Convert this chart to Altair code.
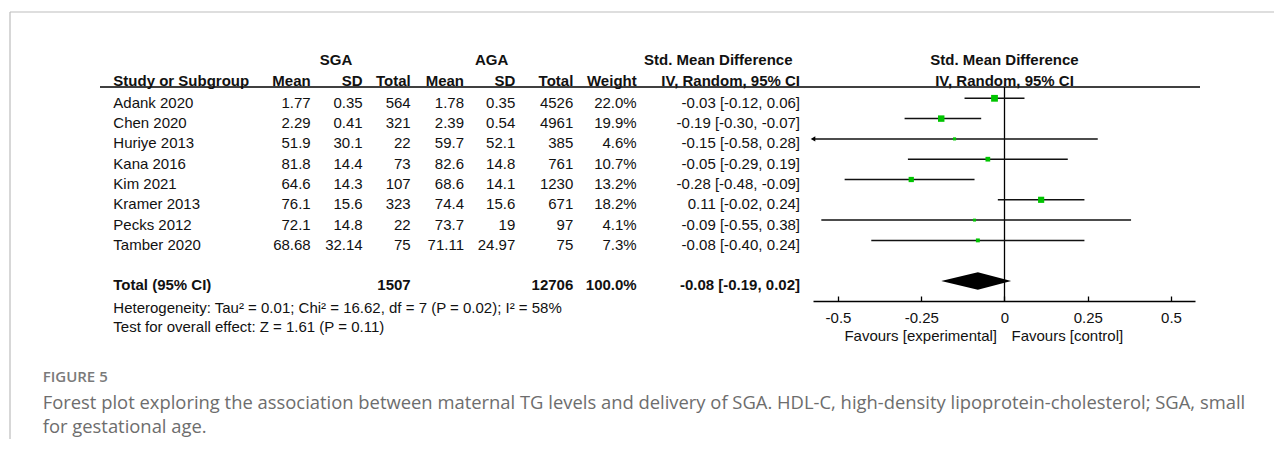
import altair as alt
import pandas as pd

# ---------------- data ----------------
studies = ["Adank 2020", "Chen 2020", "Huriye 2013", "Kana 2016", "Kim 2021",
           "Kramer 2013", "Pecks 2012", "Tamber 2020"]
sga_mean = [1.77, 2.29, 51.9, 81.8, 64.6, 76.1, 72.1, 68.68]
sga_sd = [0.35, 0.41, 30.1, 14.4, 14.3, 15.6, 14.8, 32.14]
sga_n = [564, 321, 22, 73, 107, 323, 22, 75]
aga_mean = [1.78, 2.39, 59.7, 82.6, 68.6, 74.4, 73.7, 71.11]
aga_sd = [0.35, 0.54, 52.1, 14.8, 14.1, 15.6, 19, 24.97]
aga_n = [4526, 4961, 385, 761, 1230, 671, 97, 75]
weight = [22.0, 19.9, 4.6, 10.7, 13.2, 18.2, 4.1, 7.3]
smd = [-0.03, -0.19, -0.15, -0.05, -0.28, 0.11, -0.09, -0.08]
ci_low = [-0.12, -0.30, -0.58, -0.29, -0.48, -0.02, -0.55, -0.40]
ci_high = [0.06, -0.07, 0.28, 0.19, -0.09, 0.24, 0.38, 0.24]

total_label = "Total (95% CI)"
total_sga_n = 1507
total_aga_n = 12706
total_weight = 100.0
total_smd = -0.08
total_low = -0.19
total_high = 0.02

tau2, chi2, df_het, p_het, i2 = 0.01, 16.62, 7, 0.02, 58
z_val, p_z = 1.61, 0.11

x_ticks = [-0.5, -0.25, 0, 0.25, 0.5]
favours_left = "Favours [experimental]"
favours_right = "Favours [control]"

group_headers = ["SGA", "AGA", "Std. Mean Difference"]
col_headers = ["Study or Subgroup", "Mean", "SD", "Total", "Mean", "SD", "Total",
               "Weight", "IV, Random, 95% CI"]
plot_headers = ["Std. Mean Difference", "IV, Random, 95% CI"]

caption_title = "FIGURE 5"
caption_lines = [
    "Forest plot exploring the association between maternal TG levels and delivery of SGA. HDL-C, high-density lipoprotein-cholesterol; SGA, small",
    "for gestational age.",
]

# ---------------- layout / style ----------------
FONT = "Liberation Sans, Arial, sans-serif"
CAP_FONT = "Open Sans, sans-serif"
FS = 15
TXT = "#111111"
GREEN = "#00c400"
X_MIN, X_MAX = -0.575, 0.572
W, H = 1266, 288
ROW_DY = 9.4
DIAMOND_HALF = 0.43

xscale = alt.Scale(domain=[X_MIN, X_MAX], range=[805, 1187], clamp=True, nice=False, zero=False)
yscale = alt.Scale(domain=[0, 9], range=[90.3, 273], nice=False, zero=False)

df = pd.DataFrame({
    "row": list(range(len(studies))),
    "study": studies,
    "sga_mean": [str(v) for v in sga_mean],
    "sga_sd": [str(v) for v in sga_sd],
    "sga_n": [str(v) for v in sga_n],
    "aga_mean": [str(v) for v in aga_mean],
    "aga_sd": [str(v) for v in aga_sd],
    "aga_n": [str(v) for v in aga_n],
    "weight_txt": [f"{w:.1f}%" for w in weight],
    "ci_txt": [f"{e:.2f} [{l:.2f}, {h:.2f}]" for e, l, h in zip(smd, ci_low, ci_high)],
    "est": smd, "lo": ci_low, "hi": ci_high, "w": weight,
})

tot = pd.DataFrame({
    "row": [9],
    "study": [total_label],
    "sga_n": [str(total_sga_n)],
    "aga_n": [str(total_aga_n)],
    "weight_txt": [f"{total_weight:.1f}%"],
    "ci_txt": [f"{total_smd:.2f} [{total_low:.2f}, {total_high:.2f}]"],
})

diamond = pd.DataFrame({
    "x": [total_low, total_smd, total_high],
    "y": [9, 9 - DIAMOND_HALF, 9],
    "y2": [9, 9 + DIAMOND_HALF, 9],
})

one = pd.DataFrame({"a": [0]})
layers = []

# frame lines
layers.append(alt.Chart(one).mark_rule(color="#bdbdbd", strokeWidth=1.2).encode(
    x=alt.value(2), x2=alt.value(W), y=alt.value(4)))
layers.append(alt.Chart(one).mark_rule(color="#bdbdbd", strokeWidth=1.2).encode(
    x=alt.value(2), y=alt.value(4), y2=alt.value(431)))
# header underline
layers.append(alt.Chart(one).mark_rule(color="black", strokeWidth=1.6).encode(
    x=alt.value(92), x2=alt.value(1192), y=alt.value(79)))
# zero line
layers.append(alt.Chart(one).mark_rule(color="black", strokeWidth=1.3).encode(
    x=alt.X(datum=0, scale=xscale, axis=None), y=alt.value(79), y2=alt.value(293)))

axis_domain = alt.Axis(orient="bottom", domain=True, ticks=False, labels=False, grid=False,
                       title=None, offset=5, domainColor="black", domainWidth=1.3)
axis_ticks = alt.Axis(orient="bottom", values=x_ticks, domain=False, ticks=True, tickSize=5,
                      tickColor="black", tickWidth=1.3, labels=True,
                      labelExpr="'' + datum.value",
                      labelFont=FONT, labelFontSize=FS, labelColor=TXT, labelPadding=21,
                      labelBaseline="alphabetic", labelFlush=False, labelOverlap=False,
                      grid=False, title=None)

# CI lines
layers.append(alt.Chart(df).mark_rule(color="#111111", strokeWidth=1.5).encode(
    x=alt.X("lo:Q", scale=xscale, axis=axis_domain),
    x2="hi:Q",
    y=alt.Y("row:Q", scale=yscale, axis=None)))
# arrows for clipped CIs
layers.append(alt.Chart(df).transform_filter(alt.datum.lo < X_MIN).mark_point(
    shape="triangle-left", filled=True, color="black", opacity=1, size=28).encode(
    x=alt.X("lo:Q", scale=xscale, axis=None),
    y=alt.Y("row:Q", scale=yscale, axis=None)))
# squares
layers.append(alt.Chart(df).mark_square(filled=True, color=GREEN, opacity=1).encode(
    x=alt.X("est:Q", scale=xscale, axis=axis_ticks),
    y=alt.Y("row:Q", scale=yscale, axis=None),
    size=alt.Size("w:Q", scale=alt.Scale(domain=[0, 22], range=[0, 46]), legend=None)))
# diamond
layers.append(alt.Chart(diamond).mark_area(color="black", orient="vertical", opacity=1).encode(
    x=alt.X("x:Q", scale=xscale, axis=None),
    y=alt.Y("y:Q", scale=yscale, axis=None),
    y2="y2:Q"))
# favours labels
layers.append(alt.Chart(one).mark_text(text=favours_left, align="right", baseline="alphabetic",
                                       font=FONT, fontSize=FS, color=TXT, dx=-7.5).encode(
    x=alt.X(datum=0, scale=xscale, axis=None), y=alt.value(333.4)))
layers.append(alt.Chart(one).mark_text(text=favours_right, align="left", baseline="alphabetic",
                                       font=FONT, fontSize=FS, color=TXT, dx=7).encode(
    x=alt.X(datum=0, scale=xscale, axis=None), y=alt.value(333.4)))

# table columns
cols = [("study", 105.3, "left"), ("sga_mean", 302.7, "right"), ("sga_sd", 354.7, "right"),
        ("sga_n", 402.7, "right"), ("aga_mean", 456, "right"), ("aga_sd", 507.3, "right"),
        ("aga_n", 565.3, "right"), ("weight_txt", 628.7, "right"), ("ci_txt", 792, "right")]
for field, px, al in cols:
    layers.append(alt.Chart(df).mark_text(align=al, baseline="alphabetic", dy=ROW_DY,
                                          font=FONT, fontSize=FS, color=TXT).encode(
        x=alt.value(px), y=alt.Y("row:Q", scale=yscale, axis=None), text=f"{field}:N"))
    if field in tot.columns:
        layers.append(alt.Chart(tot).mark_text(align=al, baseline="alphabetic", dy=ROW_DY,
                                               font=FONT, fontSize=FS, fontWeight="bold",
                                               color=TXT).encode(
            x=alt.value(px), y=alt.Y("row:Q", scale=yscale, axis=None), text=f"{field}:N"))

# header rows
for label, px in zip(group_headers, [328, 483.7, 710.3]):
    layers.append(alt.Chart(one).mark_text(text=label, align="center", baseline="alphabetic",
                                           font=FONT, fontSize=FS, fontWeight="bold",
                                           color=TXT).encode(x=alt.value(px), y=alt.value(57.4)))
for label, (_, px, al) in zip(col_headers, cols):
    layers.append(alt.Chart(one).mark_text(text=label, align=al, baseline="alphabetic",
                                           font=FONT, fontSize=FS, fontWeight="bold",
                                           color=TXT).encode(x=alt.value(px), y=alt.value(78.4)))
for label, py in zip(plot_headers, [57.4, 78.4]):
    layers.append(alt.Chart(one).mark_text(text=label, align="center", baseline="alphabetic",
                                           font=FONT, fontSize=FS, fontWeight="bold",
                                           color=TXT).encode(
        x=alt.X(datum=0, scale=xscale, axis=None), y=alt.value(py)))

# footnotes
foot = [
    f"Heterogeneity: Tau\u00b2 = {tau2:.2f}; Chi\u00b2 = {chi2:.2f}, df = {df_het} (P = {p_het:.2f}); I\u00b2 = {i2}%",
    f"Test for overall effect: Z = {z_val:.2f} (P = {p_z:.2f})",
]
for label, py in zip(foot, [304.6, 324.0]):
    layers.append(alt.Chart(one).mark_text(text=label, align="left", baseline="alphabetic",
                                           font=FONT, fontSize=FS, color=TXT).encode(
        x=alt.value(105.3), y=alt.value(py)))

# caption
layers.append(alt.Chart(one).mark_text(text=caption_title, align="left", baseline="alphabetic",
                                       font=CAP_FONT, fontSize=15, fontWeight=600,
                                       color="#7a7a7a").encode(x=alt.value(34.7), y=alt.value(373.7)))
for label, py in zip(caption_lines, [400.5, 424.5]):
    layers.append(alt.Chart(one).mark_text(text=label, align="left", baseline="alphabetic",
                                           font=CAP_FONT, fontSize=18.4, color="#6d6d6d").encode(
        x=alt.value(34.7), y=alt.value(py)))

chart = alt.layer(*layers).resolve_axis(x="independent").properties(
    width=W, height=H,
    padding={"left": 0, "top": 0, "right": 0, "bottom": 143},
    autosize=alt.AutoSizeParams(type="none"),
    background="white",
).configure_view(stroke=None)

chart.save("out.html", embed_options={"renderer": "svg", "actions": False})
